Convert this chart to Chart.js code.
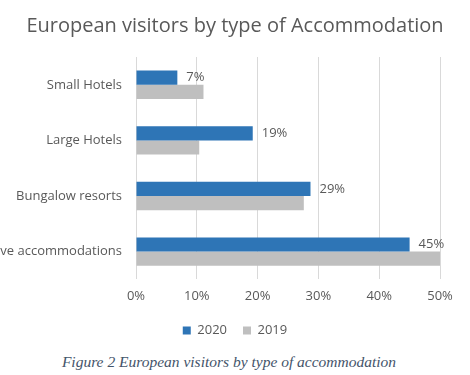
<!DOCTYPE html>
<html>
<head>
<meta charset="utf-8">
<script src="https://cdn.jsdelivr.net/npm/chart.js@4"></script>
<style>
html,body{margin:0;padding:0;background:#fff;}
#wrap{position:relative;width:470px;height:375px;overflow:hidden;}
#chartAcc{position:absolute;left:0;top:0;}
#caption{position:absolute;left:0;width:458px;top:353px;text-align:center;font-family:"Liberation Serif","DejaVu Serif",serif;font-style:italic;font-size:15.5px;color:#44546A;}
</style>
</head>
<body>
<div id="wrap">
<canvas id="chartAcc" width="470" height="347"></canvas>
<div id="caption">Figure 2 European visitors by type of accommodation</div>
</div>
<script>
const categories = ["Small Hotels","Large Hotels","Bungalow resorts","Alternative accommodations"];
const values2020 = [6.8,19.2,28.7,45.0];
const values2019 = [11.1,10.4,27.6,50.4];
const labels2020 = ["7%","19%","29%","45%"];
const xTicks = [0,10,20,30,40,50];

const TEXT = "#595959";

/* etiquettes de valeurs */
const valueLabels = {
id:'valueLabels',
afterDatasetsDraw(chart){
let ctx = chart.ctx;
let meta = chart.getDatasetMeta(0);
ctx.save();
ctx.font = "13px 'Open Sans', sans-serif";
ctx.fillStyle = TEXT;
ctx.textAlign = "left";
ctx.textBaseline = "middle";
meta.data.forEach((bar,i)=>{
ctx.fillText(labels2020[i], bar.x+9, bar.y);
});
ctx.restore();
}
};

new Chart(document.getElementById("chartAcc"),{
type:'bar',
data:{
labels:categories,
datasets:[
{label:"2020",data:values2020,backgroundColor:"#2E75B6",barPercentage:1,categoryPercentage:0.51},
{label:"2019",data:values2019,backgroundColor:"#BFBFBF",barPercentage:1,categoryPercentage:0.51}
]
},
plugins:[valueLabels],
options:{
indexAxis:'y',
responsive:false,
animation:false,
layout:{padding:{left:0,right:0,top:10,bottom:0}},
plugins:{
title:{
display:true,
text:"European visitors by type of Accommodation",
color:TEXT,
font:{family:"'Open Sans', sans-serif",size:20,weight:'normal'},
padding:{top:4,bottom:19}
},
legend:{
position:'bottom',
labels:{
color:TEXT,
font:{family:"'Open Sans', sans-serif",size:13},
boxWidth:8,
boxHeight:8,
padding:16
}
},
tooltip:{enabled:false}
},
scales:{
x:{
min:0,
max:50,
afterBuildTicks:(scale)=>{scale.ticks = xTicks.map(v=>({value:v}));},
afterFit:(scale)=>{
scale.height -= 5;
scale.paddingRight = 30;
},
ticks:{
color:TEXT,
font:{family:"'Open Sans', sans-serif",size:13},
padding:9,
callback:(v)=>v+"%"
},
grid:{color:"#D9D9D9",drawTicks:false},
border:{display:false}
},
y:{
afterFit:(scale)=>{scale.width = 136;},
ticks:{
color:TEXT,
font:{family:"'Open Sans', sans-serif",size:13},
padding:6
},
grid:{display:false},
border:{display:false}
}
}
}
});
</script>
</body>
</html>
